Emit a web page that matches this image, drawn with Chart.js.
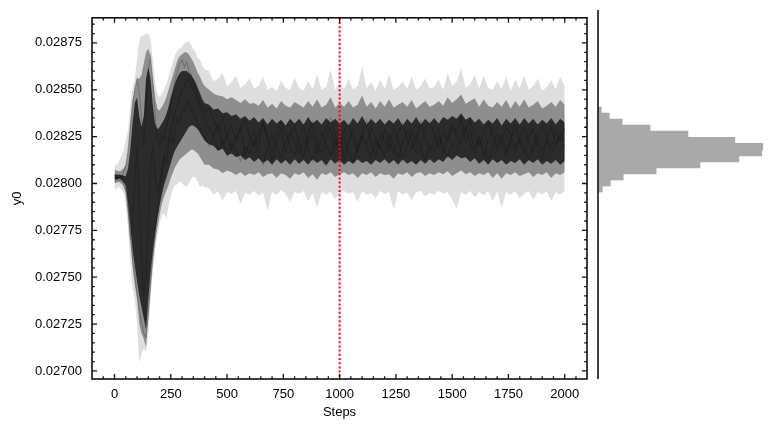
<!DOCTYPE html>
<html>
<head>
<meta charset="utf-8">
<script src="https://cdn.jsdelivr.net/npm/chart.js@4.4.1/dist/chart.umd.min.js"></script>
<style>
  html, body { margin: 0; padding: 0; background: #fff; }
  #wrap { position: relative; width: 781px; height: 431px; }
  #trace { position: absolute; left: 0; top: 0; }
  #hist { position: absolute; left: 590px; top: 0; }
</style>
</head>
<body>
<div id="wrap">
  <canvas id="trace" width="600" height="431"></canvas>
  <canvas id="hist" width="191" height="431"></canvas>
</div>
<script>
// all y0 values below are stored in units of 1e-6
const steps = [
  0, 10, 20, 30, 40, 50, 60, 70, 80, 90,
  100, 110, 120, 130, 140, 150, 160, 170, 180, 190,
  200, 210, 220, 230, 240, 250, 260, 270, 280, 290,
  300, 310, 320, 330, 340, 350, 360, 370, 380, 390,
  400,
  420, 440, 460, 480, 500, 520, 540, 560, 580, 600,
  620, 640, 660, 680, 700, 720, 740, 760, 780, 800,
  820, 840, 860, 880, 900, 920, 940, 960, 980, 1000,
  1020, 1040, 1060, 1080, 1100, 1120, 1140, 1160, 1180, 1200,
  1220, 1240, 1260, 1280, 1300, 1320, 1340, 1360, 1380, 1400,
  1420, 1440, 1460, 1480, 1500, 1520, 1540, 1560, 1580, 1600,
  1620, 1640, 1660, 1680, 1700, 1720, 1740, 1760, 1780, 1800,
  1820, 1840, 1860, 1880, 1900, 1920, 1940, 1960, 1980, 2000
];

// lowest walker at each step
const envLo = [
  27965, 27975, 27980, 27970, 27950, 27890, 27760, 27580, 27440, 27380,
  27250, 27045, 27090, 27120, 27100, 27200, 27380, 27540, 27640, 27720,
  27780, 27830, 27840, 27810, 27880, 27930, 27970, 27990, 28000, 28010,
  28000, 27990, 27980, 28000, 28020, 28040, 28030, 28010, 27980, 27990,
  27980,
  27975, 27940, 27960, 27905, 27955, 27945, 27960, 27890, 27950, 27940,
  27960, 27935, 27950, 27855, 27955, 27940, 27965, 27945, 27900, 27955,
  27945, 27960, 27905, 27950, 27870, 27955, 27940, 27960, 27915, 27950,
  27960, 27945, 27955, 27900, 27960, 27940, 27950, 27920, 27960, 27945,
  27955, 27860, 27960, 27940, 27950, 27910, 27955, 27960, 27930, 27950,
  27940, 27960, 27945, 27955, 27915, 27865, 27955, 27940, 27960, 27925,
  27955, 27935, 27960, 27905, 27960, 27870, 27955, 27940, 27960, 27920,
  27945, 27960, 27910, 27955, 27940, 27960, 27905, 27955, 27940, 27960
];
// lower edge of the medium band
const envP10 = [
  28000, 28005, 28008, 28000, 27985, 27950, 27840, 27700, 27560, 27460,
  27380, 27250, 27200, 27170, 27125, 27280, 27440, 27580, 27680, 27760,
  27830, 27890, 27930, 27960, 27990, 28030, 28060, 28090, 28110, 28130,
  28140, 28150, 28160, 28170, 28180, 28180, 28170, 28160, 28140, 28120,
  28100,
  28100, 28080, 28075, 28055, 28070, 28060, 28045, 28060, 28040, 28055,
  28045, 28060, 28035, 28050, 28055, 28030, 28055, 28045, 28025, 28055,
  28045, 28060, 28030, 28050, 28020, 28055, 28045, 28060, 28035, 28050,
  28060, 28045, 28055, 28030, 28055, 28045, 28060, 28035, 28055, 28045,
  28050, 28025, 28055, 28045, 28060, 28035, 28055, 28060, 28040, 28055,
  28045, 28060, 28050, 28065, 28040, 28055, 28070, 28050, 28060, 28040,
  28055, 28045, 28060, 28030, 28055, 28025, 28055, 28045, 28060, 28040,
  28050, 28060, 28035, 28055, 28045, 28060, 28030, 28055, 28045, 28060
];
// lower edge of the dense core
const envQ1 = [
  28020, 28022, 28025, 28020, 28008, 27990, 27900, 27780, 27650, 27560,
  27480, 27400, 27340, 27280, 27220, 27380, 27520, 27640, 27730, 27810,
  27880, 27940, 27990, 28030, 28070, 28110, 28150, 28180, 28200, 28220,
  28240, 28260, 28280, 28300, 28310, 28310, 28300, 28290, 28270, 28250,
  28230,
  28210, 28200, 28175, 28185, 28150, 28160, 28140, 28150, 28125, 28140,
  28115, 28135, 28110, 28125, 28100, 28130, 28105, 28125, 28100, 28130,
  28105, 28125, 28100, 28130, 28110, 28125, 28095, 28130, 28105, 28125,
  28100, 28120, 28105, 28130, 28110, 28120, 28100, 28125, 28110, 28130,
  28105, 28125, 28100, 28130, 28105, 28120, 28100, 28125, 28105, 28130,
  28110, 28130, 28115, 28145, 28125, 28150, 28135, 28140, 28115, 28135,
  28105, 28125, 28100, 28130, 28110, 28125, 28100, 28120, 28110, 28130,
  28100, 28125, 28110, 28130, 28100, 28120, 28105, 28125, 28100, 28120
];
// upper edge of the dense core
const envQ3 = [
  28050, 28048, 28045, 28045, 28042, 28040, 28080, 28180, 28320, 28430,
  28460, 28360, 28300, 28360, 28560, 28620, 28560, 28420, 28320, 28290,
  28300, 28320, 28340, 28370, 28410, 28460, 28500, 28540, 28570, 28590,
  28600, 28600, 28600, 28590, 28580, 28560, 28540, 28510, 28480, 28450,
  28430,
  28420, 28395, 28400, 28375, 28380, 28360, 28370, 28345, 28360, 28335,
  28355, 28325, 28350, 28315, 28345, 28320, 28340, 28310, 28345, 28320,
  28345, 28315, 28355, 28320, 28340, 28315, 28350, 28325, 28345, 28320,
  28340, 28310, 28350, 28320, 28360, 28315, 28345, 28320, 28345, 28315,
  28340, 28320, 28350, 28310, 28345, 28320, 28355, 28315, 28345, 28320,
  28350, 28320, 28355, 28340, 28360, 28345, 28375, 28340, 28355, 28325,
  28345, 28315, 28340, 28320, 28350, 28310, 28345, 28320, 28350, 28315,
  28350, 28320, 28345, 28315, 28340, 28320, 28350, 28315, 28345, 28325
];
// upper edge of the medium band
const envP90 = [
  28075, 28070, 28065, 28070, 28080, 28100, 28180, 28320, 28440, 28510,
  28560, 28560, 28580, 28640, 28700, 28720, 28680, 28560, 28460, 28400,
  28390, 28410, 28430, 28460, 28500, 28540, 28580, 28620, 28660, 28680,
  28690, 28700, 28700, 28690, 28670, 28650, 28620, 28590, 28570, 28540,
  28520,
  28500, 28480, 28470, 28465, 28450, 28460, 28445, 28430, 28450, 28425,
  28430, 28415, 28445, 28405, 28425, 28400, 28440, 28415, 28405, 28435,
  28420, 28405, 28440, 28410, 28450, 28405, 28420, 28460, 28405, 28430,
  28410, 28440, 28405, 28420, 28470, 28410, 28435, 28400, 28440, 28410,
  28450, 28405, 28420, 28435, 28410, 28445, 28400, 28420, 28440, 28410,
  28420, 28440, 28415, 28460, 28430, 28450, 28475, 28425, 28440, 28455,
  28410, 28450, 28415, 28405, 28435, 28410, 28445, 28400, 28440, 28410,
  28450, 28405, 28420, 28440, 28400, 28415, 28435, 28410, 28445, 28420
];
// highest walker at each step
const envHi = [
  28105, 28095, 28120, 28150, 28165, 28235, 28280, 28420, 28510, 28560,
  28660, 28760, 28790, 28790, 28800, 28800, 28770, 28660, 28540, 28480,
  28460, 28480, 28500, 28530, 28570, 28610, 28650, 28690, 28710, 28720,
  28730, 28745, 28755, 28760, 28740, 28720, 28700, 28670, 28660, 28630,
  28610,
  28600, 28545, 28560, 28590, 28520, 28540, 28575, 28510, 28530, 28560,
  28505, 28520, 28570, 28500, 28515, 28495, 28550, 28510, 28500, 28565,
  28510, 28495, 28545, 28505, 28580, 28500, 28515, 28610, 28500, 28535,
  28505, 28560, 28500, 28520, 28625, 28510, 28540, 28495, 28555, 28505,
  28580, 28500, 28515, 28545, 28505, 28570, 28500, 28520, 28560, 28505,
  28515, 28555, 28500, 28590, 28520, 28545, 28615, 28510, 28530, 28580,
  28505, 28575, 28510, 28500, 28545, 28505, 28570, 28495, 28555, 28510,
  28575, 28500, 28520, 28560, 28495, 28515, 28550, 28505, 28570, 28520
];

// a few single walkers
const walkerA = [
  28030, 28035, 28028, 28040, 28020, 27990, 27900, 27750, 27600, 27500,
  27420, 27330, 27260, 27200, 27180, 27300, 27450, 27600, 27750, 27850,
  27950, 28050, 28120, 28180, 28230, 28280, 28330, 28380, 28420, 28460,
  28500, 28520, 28540, 28560, 28530, 28500, 28480, 28440, 28400, 28370,
  28340,
  28300, 28250, 28320, 28200, 28260, 28180, 28240, 28300, 28150, 28220,
  28280, 28190, 28330, 28240, 28120, 28210, 28290, 28170, 28250, 28310,
  28200, 28140, 28260, 28330, 28220, 28160, 28240, 28300, 28190, 28260,
  28130, 28220, 28290, 28180, 28250, 28340, 28210, 28150, 28270, 28230,
  28180, 28300, 28240, 28120, 28200, 28280, 28210, 28330, 28250, 28170,
  28230, 28290, 28160, 28250, 28320, 28270, 28350, 28220, 28280, 28190,
  28250, 28140, 28230, 28300, 28200, 28260, 28170, 28240, 28310, 28220,
  28160, 28250, 28290, 28200, 28130, 28240, 28300, 28210, 28270, 28230
];
const walkerB = [
  28045, 28020, 28050, 28030, 28060, 28100, 28180, 28300, 28420, 28500,
  28560, 28480, 28350, 28200, 28400, 28600, 28680, 28550, 28380, 28250,
  28200, 28260, 28230, 28300, 28350, 28420, 28480, 28560, 28600, 28640,
  28660, 28620, 28650, 28600, 28580, 28540, 28500, 28470, 28430, 28400,
  28380,
  28400, 28340, 28280, 28350, 28260, 28310, 28230, 28290, 28340, 28250,
  28200, 28270, 28320, 28240, 28180, 28260, 28330, 28270, 28200, 28150,
  28240, 28300, 28210, 28270, 28160, 28230, 28290, 28350, 28260, 28200,
  28280, 28320, 28230, 28170, 28250, 28210, 28300, 28240, 28180, 28290,
  28220, 28160, 28270, 28320, 28240, 28180, 28260, 28200, 28290, 28330,
  28260, 28190, 28280, 28230, 28300, 28250, 28210, 28290, 28340, 28260,
  28200, 28280, 28320, 28240, 28170, 28230, 28300, 28260, 28190, 28250,
  28300, 28220, 28170, 28260, 28310, 28250, 28190, 28280, 28220, 28290
];
const walkerC = [
  28010, 28025, 28015, 28020, 28000, 27960, 27850, 27700, 27800, 28000,
  28200, 27900, 27600, 27400, 27500, 27800, 28100, 28200, 28050, 27950,
  28000, 28080, 28150, 28100, 28200, 28250, 28220, 28300, 28350, 28320,
  28400, 28380, 28420, 28450, 28400, 28380, 28350, 28320, 28300, 28260,
  28250,
  28200, 28240, 28180, 28230, 28150, 28210, 28170, 28120, 28200, 28160,
  28230, 28150, 28100, 28190, 28260, 28200, 28140, 28220, 28280, 28210,
  28160, 28230, 28180, 28120, 28200, 28270, 28210, 28150, 28230, 28180,
  28240, 28170, 28110, 28200, 28260, 28190, 28140, 28230, 28200, 28150,
  28260, 28200, 28140, 28220, 28280, 28230, 28160, 28190, 28120, 28210,
  28170, 28240, 28200, 28140, 28210, 28180, 28250, 28300, 28220, 28160,
  28230, 28190, 28120, 28200, 28260, 28210, 28150, 28220, 28180, 28240,
  28190, 28130, 28210, 28250, 28180, 28220, 28160, 28200, 28250, 28190
];

const xTicks = [0, 250, 500, 750, 1000, 1250, 1500, 1750, 2000];
const yTicks = [0.02700, 0.02725, 0.02750, 0.02775, 0.02800, 0.02825, 0.02850, 0.02875];
const burnIn = 1000;

// histogram of the samples after burn-in
const binEdges = [27938, 27977, 28017, 28056, 28096, 28135, 28174, 28214, 28253, 28293, 28332, 28372, 28411, 28451, 28490];
const histCounts = [40, 120, 250, 580, 1020, 1410, 1640, 1650, 1370, 900, 520, 240, 110, 30];

const Y_MIN = 0.026957;
const Y_MAX = 0.028884;

Chart.defaults.font.family = '"Liberation Sans", Arial, sans-serif';
Chart.defaults.font.size = 13;
Chart.defaults.color = '#000';

const toPts = arr => steps.map((s, i) => ({ x: s, y: arr[i] * 1e-6 }));

function band(arr, fillColor) {
    return {
        data: toPts(arr),
        borderWidth: 0,
        borderColor: 'rgba(0,0,0,0)',
        backgroundColor: fillColor,
        fill: fillColor ? '-1' : false,
        pointRadius: 0
    };
}
function walker(arr) {
    return {
        data: toPts(arr),
        borderWidth: 1.2,
        borderColor: 'rgba(0,0,0,0.2)',
        fill: false,
        pointRadius: 0
    };
}

// inward ticks on all four sides, frame and burn-in marker
const frameTicks = {
    id: 'frameTicks',
    afterDraw(chart) {
        const { ctx, chartArea: a } = chart;
        const x = chart.scales.x, y = chart.scales.y;
        ctx.save();

        const bx = x.getPixelForValue(burnIn);
        ctx.strokeStyle = '#ff0000';
        ctx.lineWidth = 2;
        ctx.setLineDash([2, 2.2]);
        ctx.beginPath();
        ctx.moveTo(bx, a.top);
        ctx.lineTo(bx, a.bottom);
        ctx.stroke();
        ctx.setLineDash([]);

        ctx.strokeStyle = '#111';
        ctx.lineWidth = 1.3;
        ctx.beginPath();
        for (let v = -50; v <= 2050; v += 50) {
            const px = x.getPixelForValue(v);
            if (px <= a.left + 1 || px >= a.right - 1) continue;
            const len = v % 250 === 0 ? 5 : 2.8;
            ctx.moveTo(px, a.bottom); ctx.lineTo(px, a.bottom - len);
            ctx.moveTo(px, a.top); ctx.lineTo(px, a.top + len);
        }
        for (let k = -1; k <= 40; k++) {
            const py = y.getPixelForValue(0.027 + k * 0.00005);
            if (py <= a.top + 1 || py >= a.bottom - 1) continue;
            const len = k % 5 === 0 ? 5 : 2.8;
            ctx.moveTo(a.left, py); ctx.lineTo(a.left + len, py);
            ctx.moveTo(a.right, py); ctx.lineTo(a.right - len, py);
        }
        ctx.stroke();

        ctx.lineWidth = 1.6;
        ctx.strokeRect(a.left, a.top, a.right - a.left, a.bottom - a.top);
        ctx.restore();
    }
};

new Chart(document.getElementById('trace'), {
    type: 'line',
    data: {
        datasets: [
            band(envLo, null),
            band(envHi, 'rgba(0,0,0,0.13)'),
            band(envP10, null),
            band(envP90, 'rgba(0,0,0,0.36)'),
            band(envQ1, null),
            band(envQ3, 'rgba(0,0,0,0.7)'),
            walker(walkerA),
            walker(walkerB),
            walker(walkerC)
        ]
    },
    options: {
        responsive: false,
        animation: false,
        layout: { padding: { top: 10, right: 13, left: 0, bottom: 0 } },
        elements: { line: { tension: 0 }, point: { radius: 0 } },
        plugins: { legend: { display: false }, tooltip: { enabled: false } },
        scales: {
            x: {
                type: 'linear',
                min: -100,
                max: 2099,
                grid: { display: false, drawTicks: false },
                border: { display: false },
                afterBuildTicks: s => { s.ticks = xTicks.map(v => ({ value: v })); },
                afterFit: s => { s.height = 52; },
                ticks: { padding: 8, maxRotation: 0, autoSkip: false, callback: v => String(v) },
                title: { display: true, text: 'Steps', padding: { top: 0, bottom: 11 } }
            },
            y: {
                type: 'linear',
                min: Y_MIN,
                max: Y_MAX,
                grid: { display: false, drawTicks: false },
                border: { display: false },
                afterBuildTicks: s => { s.ticks = yTicks.map(v => ({ value: v })); },
                afterFit: s => { s.width = 92; },
                ticks: { padding: 10, autoSkip: false, callback: v => v.toFixed(5) },
                title: { display: true, text: 'y0', padding: { top: 10, bottom: 0 } }
            }
        }
    },
    plugins: [frameTicks]
});

// marginal histogram
const histSpine = {
    id: 'histSpine',
    afterDraw(chart) {
        const { ctx, chartArea: a } = chart;
        ctx.save();
        ctx.strokeStyle = '#111';
        ctx.lineWidth = 1.6;
        ctx.beginPath();
        ctx.moveTo(a.left, a.top);
        ctx.lineTo(a.left, a.bottom);
        ctx.stroke();
        ctx.restore();
    }
};

const histPts = histCounts.map((c, i) => ({ x: c, y: (binEdges[i] + binEdges[i + 1]) / 2 * 1e-6 }));

new Chart(document.getElementById('hist'), {
    type: 'bar',
    data: {
        datasets: [{
            data: histPts,
            backgroundColor: '#a9a9a9',
            borderWidth: 0,
            inflateAmount: 0.6,
            barPercentage: 1,
            categoryPercentage: 1
        }]
    },
    options: {
        indexAxis: 'y',
        responsive: false,
        animation: false,
        layout: { padding: { top: 10, right: 10, left: 8, bottom: 52 } },
        plugins: { legend: { display: false }, tooltip: { enabled: false } },
        scales: {
            y: { type: 'linear', min: Y_MIN, max: Y_MAX, display: false },
            x: { type: 'linear', min: 0, max: 1735, display: false }
        }
    },
    plugins: [histSpine]
});
</script>
</body>
</html>
